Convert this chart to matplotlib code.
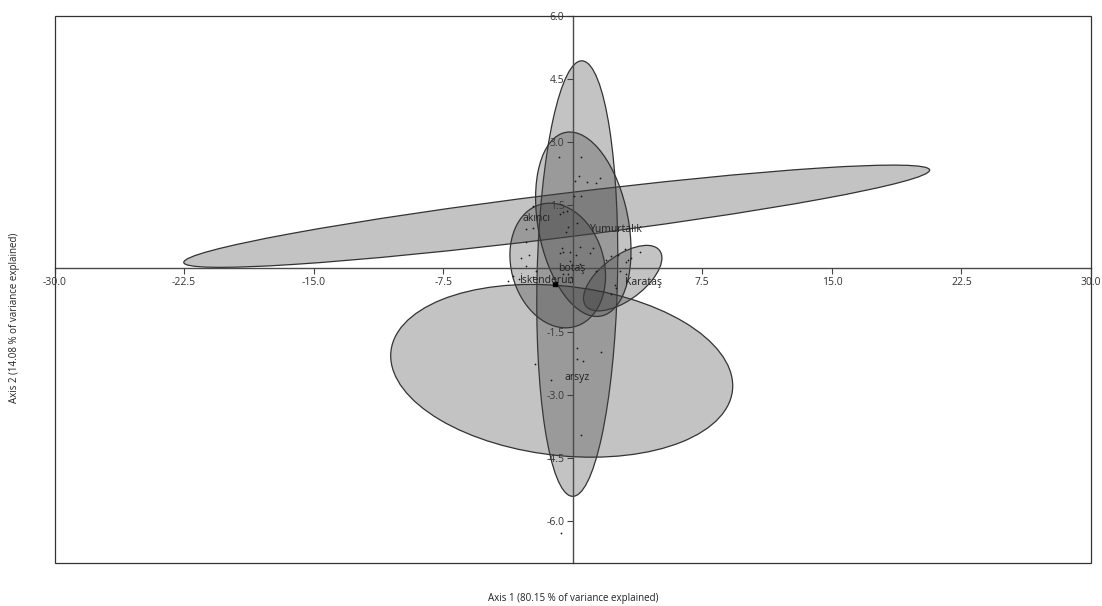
import numpy as np
import matplotlib
matplotlib.use("Agg")
import matplotlib.pyplot as plt
from matplotlib.patches import Ellipse, Rectangle

plt.rcParams['font.family'] = ['Open Sans', 'DejaVu Sans']

# ---- data ----
groups = ["Yumurtalık", "botaş", "Karataş", "akıncı", "İskenderun", "arsyz"]
# ellipse centres and conjugate half-diameters (data units)
ell_cx = [-0.93, 0.26, 2.89, -0.87, 0.61, -0.64]
ell_cy = [1.24, -0.24, -0.23, 0.07, 1.05, -2.43]
ell_ux = [21.59, 0.26, 2.14, -0.46, -0.78, 9.90]
ell_uy = [1.095, 5.17, 0.655, 1.48, 2.19, -0.357]
ell_vx = [0.0, 2.33, 0.76, 2.73, 2.65, 0.0]
ell_vy = [0.524, 0.0, -0.42, 0.0, 0.0, 2.02]

label_text = ["Yumurtalık", "botaş", "Karataş", "akıncı", "İskenderun", "arsyz"]
label_x = [0.98, -0.87, 3.05, -2.89, -3.12, -0.46]
label_y = [0.93, 0.0, -0.33, 1.19, -0.29, -2.59]

pts_x = [-0.81, 0.46, 0.35, 0.12, 0.85, 1.37, 1.56, 0.08, 0.50, -2.30,
         -0.75, -0.58, -0.35, -2.72, -2.31, -0.29, 0.27, -0.41, -2.68, -2.97,
         -2.53, -0.65, -0.56, -0.75, -0.17, 0.41, 0.98, 1.17, -0.17, 0.41,
         -2.68, 1.95, 2.24, 2.62, 3.01, 3.11, 3.20, 3.40, 3.88, 2.72,
         2.43, 2.53, 3.11, 1.37, -3.45, -3.74, -2.31, -2.10, -0.58, -0.29,
         -0.08, 2.24, -0.17, 0.25, 1.66, 0.25, 0.60, -2.16, -1.27, 0.46,
         -0.68, -3.13, 0.21]
pts_y = [2.64, 2.64, 2.20, 2.07, 2.05, 2.04, 2.14, 1.72, 1.71, 1.48,
         1.29, 1.33, 1.36, 0.93, 0.95, 0.98, 1.09, 0.86, 0.63, 0.25,
         0.33, 0.49, 0.39, 0.36, 0.39, 0.51, 0.36, 0.49, 0.17, 0.11,
         0.07, 0.19, 0.29, 0.31, 0.47, 0.15, 0.19, 0.25, 0.39, -0.05,
         -0.40, -0.46, -0.14, -0.05, -0.17, -0.29, -0.21, -0.05, -0.12, -0.14,
         -0.21, -0.60, -0.33, -1.89, -1.99, -2.15, -2.19, -2.27, -2.65, -3.95,
         -6.29, -0.24, 0.31]

marker_x = [-1.04]
marker_y = [-0.36]

xticks = [-30.0, -22.5, -15.0, -7.5, 7.5, 15.0, 22.5, 30.0]
yticks = [-6.0, -4.5, -3.0, -1.5, 1.5, 3.0, 4.5, 6.0]

# ---- figure ----
fig = plt.figure(figsize=(11.02, 6.06), dpi=100)
ax = fig.add_axes([0.0495, 0.0705, 0.9405, 0.9035])
ax.set_xlim(-30, 30)
ax.set_ylim(-7, 6)

for cx, cy, ux, uy, vx, vy in zip(ell_cx, ell_cy, ell_ux, ell_uy, ell_vx, ell_vy):
    A = np.array([[ux, vx], [uy, vy]])
    M = A @ A.T
    w, R = np.linalg.eigh(M)
    ang = np.degrees(np.arctan2(R[1, 1], R[0, 1]))
    e = Ellipse((cx, cy), 2 * np.sqrt(w[1]), 2 * np.sqrt(w[0]), angle=ang,
                facecolor=(0.25, 0.25, 0.25, 0.31), edgecolor='#333333',
                linewidth=0.9, zorder=2)
    ax.add_patch(e)

ax.scatter(pts_x, pts_y, s=1.6, color='#1a1a1a', zorder=4, linewidths=0)
ax.scatter(marker_x, marker_y, s=5, marker='s', color='black', zorder=4)

for t, x, y in zip(label_text, label_x, label_y):
    ax.text(x, y, t, fontsize=7.5, color='#222222', ha='left', va='center', zorder=5)

# central axes
for side in ['top', 'right']:
    ax.spines[side].set_visible(False)
ax.spines['left'].set_position(('data', 0))
ax.spines['bottom'].set_position(('data', 0))
for side in ['left', 'bottom']:
    ax.spines[side].set_color('#4a4a4a')
    ax.spines[side].set_linewidth(1.0)
    ax.spines[side].set_zorder(3)
ax.add_patch(Rectangle((0, 0), 1, 1, transform=ax.transAxes, fill=False,
                       edgecolor='#333333', linewidth=0.9, clip_on=False, zorder=6))

ax.set_xticks(xticks)
ax.set_xticklabels([f"{v:.1f}" for v in xticks])
ax.set_yticks(yticks)
ax.set_yticklabels([f"{v:.1f}" for v in yticks])
ax.tick_params(direction='out', length=4, width=0.8, color='#444444',
               labelsize=7.5, labelcolor='#333333', pad=2)

fig.text(0.52, 0.013, "Axis 1 (80.15 % of variance explained)", fontsize=7,
         ha='center', va='center', color='#222222')
fig.text(0.0135, 0.475, "Axis 2 (14.08 % of variance explained)", fontsize=7,
         ha='center', va='center', rotation=90, color='#222222')

fig.savefig("out.png", dpi=100)
